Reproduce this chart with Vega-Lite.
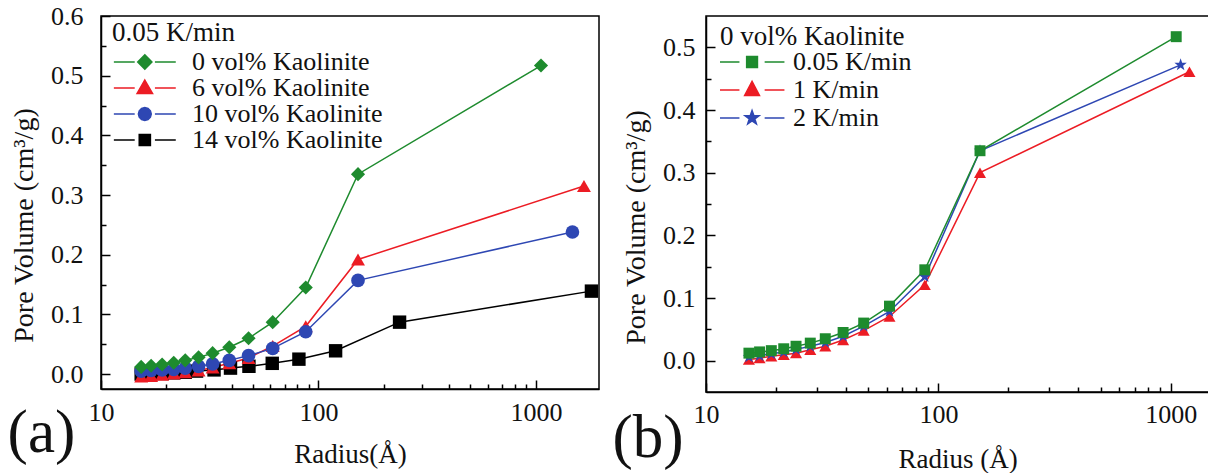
{
  "$schema": "https://vega.github.io/schema/vega-lite/v6.json",
  "padding": {"left": 6, "top": 2, "right": 0, "bottom": 0},
  "spacing": 11,
  "align": "none",
  "datasets": {
    "left": [
      {"s": "14 vol% Kaolinite", "r": 15.3, "v": 0.000},
      {"s": "14 vol% Kaolinite", "r": 17.0, "v": 0.001},
      {"s": "14 vol% Kaolinite", "r": 19.1, "v": 0.001},
      {"s": "14 vol% Kaolinite", "r": 21.6, "v": 0.002},
      {"s": "14 vol% Kaolinite", "r": 24.4, "v": 0.003},
      {"s": "14 vol% Kaolinite", "r": 27.5, "v": 0.005},
      {"s": "14 vol% Kaolinite", "r": 33.1, "v": 0.007},
      {"s": "14 vol% Kaolinite", "r": 39.4, "v": 0.010},
      {"s": "14 vol% Kaolinite", "r": 47.9, "v": 0.013},
      {"s": "14 vol% Kaolinite", "r": 61.3, "v": 0.018},
      {"s": "14 vol% Kaolinite", "r": 81.3, "v": 0.025},
      {"s": "14 vol% Kaolinite", "r": 119.9, "v": 0.039},
      {"s": "14 vol% Kaolinite", "r": 236, "v": 0.087},
      {"s": "14 vol% Kaolinite", "r": 1800, "v": 0.139},
      {"s": "6 vol% Kaolinite", "r": 15.3, "v": -0.004},
      {"s": "6 vol% Kaolinite", "r": 17.0, "v": -0.003},
      {"s": "6 vol% Kaolinite", "r": 19.1, "v": -0.001},
      {"s": "6 vol% Kaolinite", "r": 21.6, "v": 0.001},
      {"s": "6 vol% Kaolinite", "r": 24.4, "v": 0.003},
      {"s": "6 vol% Kaolinite", "r": 28.1, "v": 0.006},
      {"s": "6 vol% Kaolinite", "r": 32.6, "v": 0.011},
      {"s": "6 vol% Kaolinite", "r": 38.9, "v": 0.018},
      {"s": "6 vol% Kaolinite", "r": 47.7, "v": 0.027},
      {"s": "6 vol% Kaolinite", "r": 61.6, "v": 0.047},
      {"s": "6 vol% Kaolinite", "r": 87.4, "v": 0.080},
      {"s": "6 vol% Kaolinite", "r": 152, "v": 0.192},
      {"s": "6 vol% Kaolinite", "r": 1663, "v": 0.315},
      {"s": "10 vol% Kaolinite", "r": 15.3, "v": 0.005},
      {"s": "10 vol% Kaolinite", "r": 17.0, "v": 0.006},
      {"s": "10 vol% Kaolinite", "r": 19.1, "v": 0.007},
      {"s": "10 vol% Kaolinite", "r": 21.6, "v": 0.008},
      {"s": "10 vol% Kaolinite", "r": 24.4, "v": 0.010},
      {"s": "10 vol% Kaolinite", "r": 28.1, "v": 0.013},
      {"s": "10 vol% Kaolinite", "r": 32.6, "v": 0.017},
      {"s": "10 vol% Kaolinite", "r": 38.9, "v": 0.023},
      {"s": "10 vol% Kaolinite", "r": 47.7, "v": 0.031},
      {"s": "10 vol% Kaolinite", "r": 61.6, "v": 0.043},
      {"s": "10 vol% Kaolinite", "r": 87.4, "v": 0.071},
      {"s": "10 vol% Kaolinite", "r": 152, "v": 0.157},
      {"s": "10 vol% Kaolinite", "r": 1472, "v": 0.238},
      {"s": "0 vol% Kaolinite", "r": 15.3, "v": 0.012},
      {"s": "0 vol% Kaolinite", "r": 17.0, "v": 0.014},
      {"s": "0 vol% Kaolinite", "r": 19.1, "v": 0.016},
      {"s": "0 vol% Kaolinite", "r": 21.6, "v": 0.019},
      {"s": "0 vol% Kaolinite", "r": 24.4, "v": 0.023},
      {"s": "0 vol% Kaolinite", "r": 28.1, "v": 0.028},
      {"s": "0 vol% Kaolinite", "r": 32.6, "v": 0.035},
      {"s": "0 vol% Kaolinite", "r": 38.9, "v": 0.045},
      {"s": "0 vol% Kaolinite", "r": 47.7, "v": 0.060},
      {"s": "0 vol% Kaolinite", "r": 61.6, "v": 0.087},
      {"s": "0 vol% Kaolinite", "r": 87.4, "v": 0.145},
      {"s": "0 vol% Kaolinite", "r": 152, "v": 0.335},
      {"s": "0 vol% Kaolinite", "r": 1055, "v": 0.517}
    ],
    "right": [
      {"s": "1 K/min", "r": 15.3, "v": 0.002},
      {"s": "1 K/min", "r": 17.0, "v": 0.004},
      {"s": "1 K/min", "r": 19.1, "v": 0.007},
      {"s": "1 K/min", "r": 21.6, "v": 0.0095},
      {"s": "1 K/min", "r": 24.4, "v": 0.012},
      {"s": "1 K/min", "r": 28.1, "v": 0.0175},
      {"s": "1 K/min", "r": 32.6, "v": 0.023},
      {"s": "1 K/min", "r": 38.9, "v": 0.033},
      {"s": "1 K/min", "r": 47.7, "v": 0.048},
      {"s": "1 K/min", "r": 61.6, "v": 0.0705},
      {"s": "1 K/min", "r": 87.4, "v": 0.121},
      {"s": "1 K/min", "r": 151, "v": 0.300},
      {"s": "1 K/min", "r": 1203, "v": 0.461},
      {"s": "2 K/min", "r": 15.3, "v": 0.006},
      {"s": "2 K/min", "r": 17.0, "v": 0.008},
      {"s": "2 K/min", "r": 19.1, "v": 0.011},
      {"s": "2 K/min", "r": 21.6, "v": 0.014},
      {"s": "2 K/min", "r": 24.4, "v": 0.018},
      {"s": "2 K/min", "r": 28.1, "v": 0.023},
      {"s": "2 K/min", "r": 32.6, "v": 0.029},
      {"s": "2 K/min", "r": 38.9, "v": 0.039},
      {"s": "2 K/min", "r": 47.7, "v": 0.055},
      {"s": "2 K/min", "r": 61.6, "v": 0.0785},
      {"s": "2 K/min", "r": 87.4, "v": 0.134},
      {"s": "2 K/min", "r": 151, "v": 0.335},
      {"s": "2 K/min", "r": 1102, "v": 0.472},
      {"s": "0.05 K/min", "r": 15.3, "v": 0.012},
      {"s": "0.05 K/min", "r": 17.0, "v": 0.014},
      {"s": "0.05 K/min", "r": 19.1, "v": 0.016},
      {"s": "0.05 K/min", "r": 21.6, "v": 0.019},
      {"s": "0.05 K/min", "r": 24.4, "v": 0.023},
      {"s": "0.05 K/min", "r": 28.1, "v": 0.028},
      {"s": "0.05 K/min", "r": 32.6, "v": 0.035},
      {"s": "0.05 K/min", "r": 38.9, "v": 0.045},
      {"s": "0.05 K/min", "r": 47.7, "v": 0.060},
      {"s": "0.05 K/min", "r": 61.6, "v": 0.087},
      {"s": "0.05 K/min", "r": 87.4, "v": 0.145},
      {"s": "0.05 K/min", "r": 151, "v": 0.335},
      {"s": "0.05 K/min", "r": 1055, "v": 0.517}
    ]
  },
  "hconcat": [
    {
      "width": 498,
      "height": 373,
      "data": {"name": "left"},
      "layer": [
        {
          "mark": {"type": "line", "strokeWidth": 1.5},
          "encoding": {
            "x": {"field": "r", "type": "quantitative", "scale": {"type": "log", "domain": [10, 1950], "nice": false},
              "axis": {"orient": "bottom", "values": [10, 100, 1000], "format": "d", "tickSize": -9, "labelPadding": 19, "labelFlush": false, "labelOverlap": false, "title": "Radius(Å)", "titlePadding": 16}},
            "y": {"field": "v", "type": "quantitative", "scale": {"domain": [-0.025, 0.6], "nice": false, "zero": false},
              "axis": {"orient": "left", "values": [0, 0.1, 0.2, 0.3, 0.4, 0.5, 0.6], "format": ".1f", "tickSize": -9, "labelPadding": 27, "labelFlush": false, "labelOverlap": false, "title": "Pore Volume (cm³/g)", "titleFontSize": 28, "titlePadding": 12, "titleY": 209}},
            "color": {"field": "s", "type": "nominal", "scale": {"domain": ["0 vol% Kaolinite", "6 vol% Kaolinite", "10 vol% Kaolinite", "14 vol% Kaolinite"], "range": ["#1e8b2e", "#ec1c24", "#2e47b3", "#000000"]}, "legend": null}
          }
        },
        {
          "mark": {"type": "point", "filled": true, "opacity": 1, "strokeWidth": 0},
          "encoding": {
            "x": {"field": "r", "type": "quantitative", "scale": {"type": "log", "domain": [10, 1950], "nice": false},
              "axis": {"orient": "bottom", "values": [20, 30, 40, 50, 60, 70, 80, 90, 200, 300, 400, 500, 600, 700, 800, 900], "labels": false, "domain": false, "tickSize": -5, "title": null}},
            "y": {"field": "v", "type": "quantitative", "scale": {"domain": [-0.025, 0.6], "nice": false, "zero": false},
              "axis": {"orient": "left", "values": [0.05, 0.15, 0.25, 0.35, 0.45, 0.55], "labels": false, "domain": false, "tickSize": -5, "title": null}},
            "color": {"field": "s", "type": "nominal", "scale": {"domain": ["0 vol% Kaolinite", "6 vol% Kaolinite", "10 vol% Kaolinite", "14 vol% Kaolinite"], "range": ["#1e8b2e", "#ec1c24", "#2e47b3", "#000000"]}, "legend": null},
            "shape": {"field": "s", "type": "nominal", "scale": {"domain": ["0 vol% Kaolinite", "6 vol% Kaolinite", "10 vol% Kaolinite", "14 vol% Kaolinite"], "range": ["diamond", "triangle-up", "circle", "square"]}, "legend": null},
            "size": {"field": "s", "type": "nominal", "scale": {"domain": ["0 vol% Kaolinite", "6 vol% Kaolinite", "10 vol% Kaolinite", "14 vol% Kaolinite"], "range": [200, 180, 170, 130]}, "legend": null}
          }
        },
        {
          "data": {"values": [{}]},
          "mark": {"type": "text", "fontSize": 61, "align": "left", "baseline": "alphabetic", "color": "#111", "clip": false},
          "encoding": {
            "x": {"datum": 3.72, "type": "quantitative", "axis": null},
            "y": {"datum": -0.13, "type": "quantitative", "axis": null},
            "text": {"value": "(a)"}
          }
        },
        {
          "transform": [{"filter": "datum.v > 5"}],
          "mark": {"type": "point", "filled": true, "opacity": 1},
          "encoding": {
            "fill": {"field": "s", "type": "nominal", "scale": {"domain": ["0 vol% Kaolinite", "6 vol% Kaolinite", "10 vol% Kaolinite", "14 vol% Kaolinite"], "range": ["#1e8b2e", "#ec1c24", "#2e47b3", "#000000"]},
              "legend": {"title": "0.05 K/min", "orient": "none", "legendX": 11, "legendY": 4, "symbolSize": 1849, "symbolStrokeWidth": 1.5, "symbolOpacity": 1, "labelOffset": 35, "rowPadding": 0, "clipHeight": 26, "titlePadding": 2, "padding": 0}},
            "stroke": {"field": "s", "type": "nominal", "scale": {"domain": ["0 vol% Kaolinite", "6 vol% Kaolinite", "10 vol% Kaolinite", "14 vol% Kaolinite"], "range": ["#1e8b2e", "#ec1c24", "#2e47b3", "#000000"]},
              "legend": {"title": "0.05 K/min", "orient": "none", "legendX": 11, "legendY": 4, "symbolSize": 1849, "symbolStrokeWidth": 1.5, "symbolOpacity": 1, "labelOffset": 35, "rowPadding": 0, "clipHeight": 26, "titlePadding": 2, "padding": 0}},
            "shape": {"field": "s", "type": "nominal", "scale": {"domain": ["0 vol% Kaolinite", "6 vol% Kaolinite", "10 vol% Kaolinite", "14 vol% Kaolinite"], "range": [
              "M-0.96,0H0.01M0.95,0H1.92M0.48,-0.33L0.81,0L0.48,0.33L0.15,0Z",
              "M-0.96,0H0.01M0.95,0H1.92M0.48,-0.37L0.84,0.25L0.12,0.25Z",
              "M-0.96,0H0.01M0.95,0H1.92M0.78,0L0.74,0.15L0.63,0.26L0.48,0.3L0.33,0.26L0.22,0.15L0.18,0L0.22,-0.15L0.33,-0.26L0.48,-0.3L0.63,-0.26L0.74,-0.15Z",
              "M-0.96,0H0.01M0.95,0H1.92M0.22,-0.26H0.74V0.26H0.22Z"]},
              "legend": {"title": "0.05 K/min", "orient": "none", "legendX": 11, "legendY": 4, "symbolSize": 1849, "symbolStrokeWidth": 1.5, "symbolOpacity": 1, "labelOffset": 35, "rowPadding": 0, "clipHeight": 26, "titlePadding": 2, "padding": 0}}
          }
        }
      ],
      "resolve": {"scale": {"color": "independent", "shape": "independent", "size": "independent", "fill": "independent", "stroke": "independent"}, "axis": {"x": "independent", "y": "independent"}}
    },
    {
      "width": 503,
      "height": 376,
      "data": {"name": "right"},
      "layer": [
        {
          "mark": {"type": "line", "strokeWidth": 1.5},
          "encoding": {
            "x": {"field": "r", "type": "quantitative", "scale": {"type": "log", "domain": [10, 1460], "nice": false},
              "axis": {"orient": "bottom", "values": [10, 100, 1000], "format": "d", "tickSize": -9, "labelPadding": 18, "labelFlush": false, "labelOverlap": false, "title": "Radius (Å)", "titlePadding": 19}},
            "y": {"field": "v", "type": "quantitative", "scale": {"domain": [-0.05, 0.55], "nice": false, "zero": false},
              "axis": {"orient": "left", "values": [0, 0.1, 0.2, 0.3, 0.4, 0.5], "format": ".1f", "tickSize": -9, "labelPadding": 20, "labelFlush": false, "labelOverlap": false, "title": "Pore Volume (cm³/g)", "titleFontSize": 28, "titlePadding": 12, "titleY": 211}},
            "color": {"field": "s", "type": "nominal", "scale": {"domain": ["0.05 K/min", "1 K/min", "2 K/min"], "range": ["#1e8b2e", "#ec1c24", "#2e47b3"]}, "legend": null}
          }
        },
        {
          "mark": {"type": "point", "filled": true, "opacity": 1, "strokeWidth": 0},
          "encoding": {
            "x": {"field": "r", "type": "quantitative", "scale": {"type": "log", "domain": [10, 1460], "nice": false},
              "axis": {"orient": "bottom", "values": [20, 30, 40, 50, 60, 70, 80, 90, 200, 300, 400, 500, 600, 700, 800, 900], "labels": false, "domain": false, "tickSize": -5, "title": null}},
            "y": {"field": "v", "type": "quantitative", "scale": {"domain": [-0.05, 0.55], "nice": false, "zero": false},
              "axis": {"orient": "left", "values": [0.05, 0.15, 0.25, 0.35, 0.45], "labels": false, "domain": false, "tickSize": -5, "title": null}},
            "color": {"field": "s", "type": "nominal", "scale": {"domain": ["0.05 K/min", "1 K/min", "2 K/min"], "range": ["#1e8b2e", "#ec1c24", "#2e47b3"]}, "legend": null},
            "shape": {"field": "s", "type": "nominal", "scale": {"domain": ["0.05 K/min", "1 K/min", "2 K/min"], "range": ["square", "triangle-up", "M0,-1L0.235,-0.324L0.951,-0.309L0.38,0.124L0.588,0.809L0,0.4L-0.588,0.809L-0.38,0.124L-0.951,-0.309L-0.235,-0.324Z"]}, "legend": null},
            "size": {"field": "s", "type": "nominal", "scale": {"domain": ["0.05 K/min", "1 K/min", "2 K/min"], "range": [120, 170, 200]}, "legend": null}
          }
        },
        {
          "data": {"values": [{}]},
          "mark": {"type": "text", "fontSize": 61, "align": "left", "baseline": "alphabetic", "color": "#111", "clip": false},
          "encoding": {
            "x": {"datum": 3.96, "type": "quantitative",
              "axis": {"orient": "top", "values": [100], "labels": false, "domain": false, "tickSize": 1, "offset": -5, "tickColor": "transparent", "title": null}},
            "y": {"datum": -0.153, "type": "quantitative", "axis": null},
            "text": {"value": "(b)"}
          }
        },
        {
          "transform": [{"filter": "datum.v > 5"}],
          "mark": {"type": "point", "filled": true, "opacity": 1},
          "encoding": {
            "fill": {"field": "s", "type": "nominal", "scale": {"domain": ["0.05 K/min", "1 K/min", "2 K/min"], "range": ["#1e8b2e", "#ec1c24", "#2e47b3"]},
              "legend": {"title": "0 vol% Kaolinite", "orient": "none", "legendX": 14, "legendY": 8, "symbolSize": 2025, "symbolStrokeWidth": 1.5, "symbolOpacity": 1, "labelOffset": 26, "rowPadding": 0, "clipHeight": 28, "titlePadding": -3, "padding": 0}},
            "stroke": {"field": "s", "type": "nominal", "scale": {"domain": ["0.05 K/min", "1 K/min", "2 K/min"], "range": ["#1e8b2e", "#ec1c24", "#2e47b3"]},
              "legend": {"title": "0 vol% Kaolinite", "orient": "none", "legendX": 14, "legendY": 8, "symbolSize": 2025, "symbolStrokeWidth": 1.5, "symbolOpacity": 1, "labelOffset": 26, "rowPadding": 0, "clipHeight": 28, "titlePadding": -3, "padding": 0}},
            "shape": {"field": "s", "type": "nominal", "scale": {"domain": ["0.05 K/min", "1 K/min", "2 K/min"], "range": [
              "M-1.06,0H-0.18M0.94,0H1.82M0.14,-0.24H0.62V0.24H0.14Z",
              "M-1.06,0H-0.18M0.94,0H1.82M0.38,-0.38L0.71,0.24L0.05,0.24Z",
              "M-1.06,0H-0.18M0.94,0H1.82M0.38,-0.33L0.458,-0.107L0.694,-0.102L0.505,0.041L0.574,0.267L0.38,0.132L0.186,0.267L0.255,0.041L0.066,-0.102L0.302,-0.107Z"]},
              "legend": {"title": "0 vol% Kaolinite", "orient": "none", "legendX": 14, "legendY": 8, "symbolSize": 2025, "symbolStrokeWidth": 1.5, "symbolOpacity": 1, "labelOffset": 26, "rowPadding": 0, "clipHeight": 28, "titlePadding": -3, "padding": 0}}
          }
        }
      ],
      "resolve": {"scale": {"color": "independent", "shape": "independent", "size": "independent", "fill": "independent", "stroke": "independent"}, "axis": {"x": "independent", "y": "independent"}}
    }
  ],
  "config": {
    "font": "Liberation Serif",
    "background": "#ffffff",
    "view": {"stroke": "#000000", "strokeWidth": 1.5},
    "text": {"font": "Liberation Serif"},
    "axis": {
      "zindex": 1,
      "labelFont": "Liberation Serif", "labelFontSize": 26, "labelColor": "#111111",
      "titleFont": "Liberation Serif", "titleFontSize": 27, "titleFontWeight": "normal", "titleColor": "#111111",
      "domainColor": "#000000", "domainWidth": 1.5, "tickColor": "#000000", "tickWidth": 1.5, "grid": false
    },
    "legend": {
      "labelFont": "Liberation Serif", "labelFontSize": 26, "labelColor": "#111111", "labelLimit": 400,
      "titleFont": "Liberation Serif", "titleFontSize": 27, "titleFontWeight": "normal", "titleColor": "#111111", "titleLimit": 400
    }
  }
}
